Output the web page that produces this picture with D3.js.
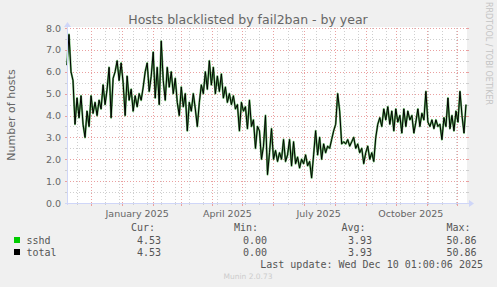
<!DOCTYPE html>
<html><head><meta charset="utf-8">
<script src="https://cdn.jsdelivr.net/npm/d3@7"></script>
<style>body{margin:0;background:#f0f0f0;overflow:hidden}svg{display:block}</style>
</head><body>
<svg id="c" width="497" height="287"></svg>
<script>
const chartTitle = "Hosts blacklisted by fail2ban - by year";
const yAxisLabel = "Number of hosts";
const startDate = new Date(Date.UTC(2024, 10, 7, 1));
const endDate = new Date(Date.UTC(2025, 11, 11, 1));
const sampleStepDays = 2;
const sshdValues = [
 6.3,7.7,6.0,5.6,3.6,4.8,3.9,4.9,3.6,3.0,4.2,3.5,4.9,4.1,4.6,4.0,4.7,4.3,5.4,4.5,
 5.2,6.2,3.9,5.7,6.0,6.5,5.6,6.4,5.5,4.0,5.8,4.7,5.2,4.2,4.9,4.4,5.0,4.7,5.3,6.0,
 6.4,5.1,5.8,6.9,4.8,6.2,4.5,7.4,5.6,4.7,6.2,5.3,6.0,5.0,5.7,4.6,4.0,5.3,4.4,5.0,
 3.3,4.6,4.2,5.0,4.3,3.5,4.6,5.4,5.0,6.0,5.2,6.5,5.4,6.2,5.0,5.8,5.1,5.9,4.8,5.3,
 4.6,5.0,4.5,4.9,4.3,4.5,3.3,4.6,4.2,4.4,3.4,4.7,3.5,3.8,2.5,3.5,3.3,2.0,2.6,4.0,
 1.3,2.3,3.4,2.0,2.4,1.9,2.3,2.0,2.9,1.9,2.2,2.9,1.7,2.8,1.8,2.1,1.6,2.0,1.8,2.2,
 1.7,1.9,1.15,2.2,3.3,2.2,3.0,2.0,2.7,2.3,2.6,2.5,2.9,3.3,3.6,5.0,4.2,2.7,2.8,2.7,
 2.9,2.6,2.8,3.0,2.5,2.7,2.3,2.5,1.8,2.3,2.6,2.0,2.3,1.9,3.0,3.6,3.9,3.5,4.3,3.8,
 4.4,3.6,4.2,3.3,4.3,3.7,4.0,3.2,4.3,3.5,4.2,3.8,4.0,3.2,3.7,4.3,3.5,4.1,3.8,5.1,
 3.7,3.5,3.8,3.4,3.8,3.5,3.6,2.9,3.9,3.5,4.8,3.4,4.0,3.3,4.2,3.7,5.1,4.0,3.2,4.5
];
const totalValues = sshdValues.slice();
const yTickValues = [0, 1, 2, 3, 4, 5, 6, 7, 8];
const yMinorValues = [0.5, 1.5, 2.5, 3.5, 4.5, 5.5, 6.5, 7.5];
const xLabelMonths = [new Date(Date.UTC(2025,0,1)), new Date(Date.UTC(2025,3,1)), new Date(Date.UTC(2025,6,1)), new Date(Date.UTC(2025,9,1))];
const legendNames = ["sshd", "total"];
const legendColors = ["#00cc00", "#000000"];
const curValues = ["4.53", "4.53"];
const minValues = ["0.00", "0.00"];
const avgValues = ["3.93", "3.93"];
const maxValues = ["50.86", "50.86"];
const lastUpdate = "Last update: Wed Dec 10 01:00:06 2025";
const versionText = "Munin 2.0.73";
const watermark = "RRDTOOL / TOBI OETIKER";

const svg = d3.select("#c");
const L = 67, R = 467, T = 28, B = 203;
const x = d3.scaleUtc().domain([startDate, endDate]).range([L, R]);
const y = d3.scaleLinear().domain([0, 8]).range([B, T]);
const sans = "DejaVu Sans, Verdana, sans-serif";
const mono = "DejaVu Sans Mono, monospace";
const fontCol = "#666666";

svg.append("rect").attr("width", 497).attr("height", 287).attr("fill", "#f0f0f0");
svg.append("rect").attr("x", L).attr("y", T - 1).attr("width", R - L).attr("height", B - T + 1).attr("fill", "#ffffff");

const grid = svg.append("g").attr("shape-rendering", "crispEdges");
const minorCol = "#cfcfcf", majorCol = "#eaa0a0";
yMinorValues.forEach(v => {
  const yy = Math.round(y(v)) + 0.5;
  grid.append("line").attr("x1", L).attr("x2", R).attr("y1", yy).attr("y2", yy)
    .attr("stroke", minorCol).attr("stroke-dasharray", "1,2");
  grid.append("line").attr("x1", L - 2).attr("x2", L).attr("y1", yy).attr("y2", yy).attr("stroke", minorCol);
  grid.append("line").attr("x1", R).attr("x2", R + 2).attr("y1", yy).attr("y2", yy).attr("stroke", minorCol);
});
const minorDates = d3.utcSunday.range(new Date(Date.UTC(2024, 10, 17)), endDate, 2);
minorDates.forEach(d => {
  const xx = Math.round(x(d)) + 0.5;
  grid.append("line").attr("x1", xx).attr("x2", xx).attr("y1", T).attr("y2", B)
    .attr("stroke", minorCol).attr("stroke-dasharray", "1,2");
  grid.append("line").attr("x1", xx).attr("x2", xx).attr("y1", B).attr("y2", B + 2).attr("stroke", minorCol);
});
yTickValues.forEach(v => {
  const yy = Math.round(y(v)) + 0.5;
  grid.append("line").attr("x1", L).attr("x2", R).attr("y1", yy).attr("y2", yy)
    .attr("stroke", majorCol).attr("stroke-dasharray", "1,2");
  grid.append("line").attr("x1", L - 2).attr("x2", L).attr("y1", yy).attr("y2", yy).attr("stroke", majorCol);
  grid.append("line").attr("x1", R).attr("x2", R + 2).attr("y1", yy).attr("y2", yy).attr("stroke", majorCol);
});
const monthDates = d3.utcMonth.range(startDate, endDate);
monthDates.forEach(d => {
  const xx = Math.round(x(d)) + 0.5;
  grid.append("line").attr("x1", xx).attr("x2", xx).attr("y1", T).attr("y2", B)
    .attr("stroke", majorCol).attr("stroke-dasharray", "1,2");
  grid.append("line").attr("x1", xx).attr("x2", xx).attr("y1", B).attr("y2", B + 3).attr("stroke", majorCol);
});

const pts = sshdValues.map((v, i) => ({ date: d3.utcDay.offset(startDate, i * sampleStepDays), v }));
const ptsTotal = totalValues.map((v, i) => ({ date: d3.utcDay.offset(startDate, i * sampleStepDays), v }));
const line = d3.line().x(d => x(d.date)).y(d => y(d.v));
svg.append("path").datum(pts).attr("d", line).attr("fill", "none")
  .attr("stroke", "#1f8f1f").attr("stroke-width", 2).attr("stroke-opacity", 0.7).attr("stroke-linejoin", "round");
svg.append("path").datum(ptsTotal).attr("d", line).attr("fill", "none")
  .attr("stroke", legendColors[1]).attr("stroke-width", 1).attr("stroke-linejoin", "round");

const axisCol = "#cfd6f8";
svg.append("line").attr("x1", L - 2).attr("x2", R + 2).attr("y1", B + 0.5).attr("y2", B + 0.5).attr("stroke", axisCol).attr("shape-rendering", "crispEdges");
svg.append("line").attr("x1", L + 0.5).attr("x2", L + 0.5).attr("y1", T - 2).attr("y2", B + 2).attr("stroke", axisCol).attr("shape-rendering", "crispEdges");
svg.append("path").attr("d", `M${R + 2},${B - 3} L${R + 7},${B + 0.5} L${R + 2},${B + 4} Z`).attr("fill", axisCol);
svg.append("path").attr("d", `M${L - 3},${T - 1} L${L + 0.5},${T - 6} L${L + 4},${T - 1} Z`).attr("fill", axisCol);

svg.append("g").selectAll("text").data(yTickValues).join("text")
  .attr("x", 61).attr("y", d => y(d) + 3.5).attr("text-anchor", "end")
  .attr("font-family", sans).attr("font-size", 9.5).attr("fill", fontCol)
  .text(d => d3.format(".1f")(d));

svg.append("g").selectAll("text").data(xLabelMonths).join("text")
  .attr("x", d => x(d3.utcDay.offset(d, 15))).attr("y", 216.5).attr("text-anchor", "middle")
  .attr("font-family", sans).attr("font-size", 9.5).attr("fill", fontCol)
  .text(d => d3.utcFormat("%B %Y")(d));

svg.append("text").attr("x", 248).attr("y", 23.5).attr("text-anchor", "middle")
  .attr("font-family", sans).attr("font-size", 12.5).attr("fill", fontCol).text(chartTitle);

svg.append("text").attr("transform", "translate(15,115) rotate(-90)").attr("text-anchor", "middle")
  .attr("font-family", sans).attr("font-size", 11).attr("fill", fontCol).text(yAxisLabel);

svg.append("text").attr("transform", "translate(485.5,53.5) rotate(90)").attr("text-anchor", "middle")
  .attr("font-family", sans).attr("font-size", 8).attr("fill", "#c4c4c4").text(watermark);

const lg = svg.append("g").attr("font-family", mono).attr("font-size", 10).attr("fill", "#555555");
lg.append("text").attr("x", 131).attr("y", 231).text("Cur:");
lg.append("text").attr("x", 234).attr("y", 231).text("Min:");
lg.append("text").attr("x", 341.5).attr("y", 231).text("Avg:");
lg.append("text").attr("x", 446.5).attr("y", 231).text("Max:");
legendNames.forEach((n, i) => {
  const yy = 243.5 + i * 12;
  svg.append("rect").attr("x", 14).attr("y", yy - 6.5).attr("width", 6).attr("height", 6).attr("fill", legendColors[i]);
  lg.append("text").attr("x", 26.5).attr("y", yy).text(n);
  lg.append("text").attr("x", 137).attr("y", yy).text(curValues[i]);
  lg.append("text").attr("x", 243).attr("y", yy).text(minValues[i]);
  lg.append("text").attr("x", 348).attr("y", yy).text(avgValues[i]);
  lg.append("text").attr("x", 446.5).attr("y", yy).text(maxValues[i]);
});
lg.append("text").attr("x", 483).attr("y", 267.5).attr("text-anchor", "end").text(lastUpdate);

svg.append("text").attr("x", 248).attr("y", 279).attr("text-anchor", "middle")
  .attr("font-family", sans).attr("font-size", 7.5).attr("fill", "#cccccc").text(versionText);
</script>
</body></html>
